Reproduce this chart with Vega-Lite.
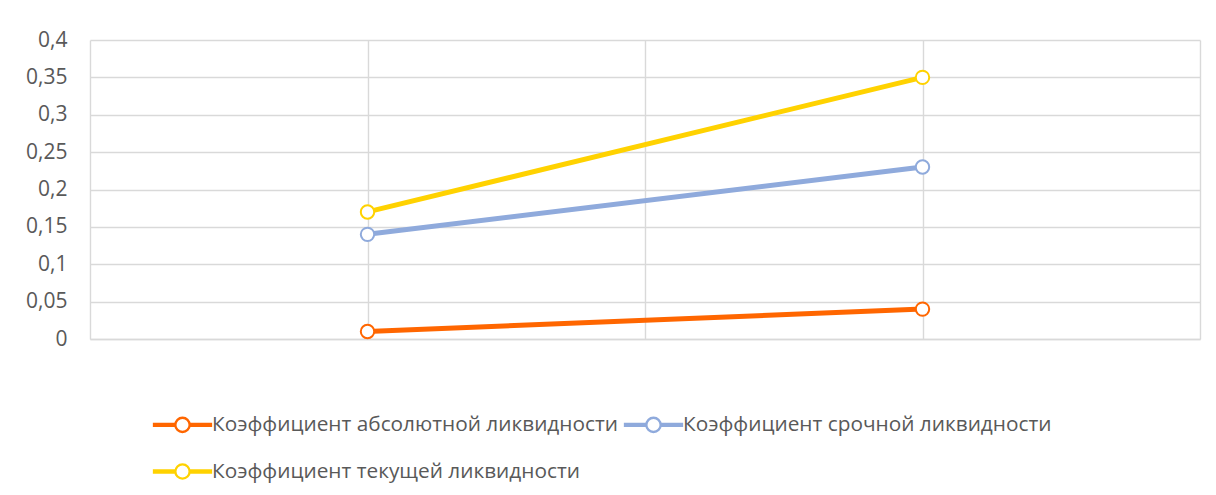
{
  "$schema": "https://vega.github.io/schema/vega-lite/v6.json",
  "width": 1110,
  "height": 299,
  "autosize": {"type": "none"},
  "padding": {"left": 90, "top": 40, "right": 16, "bottom": 156},
  "background": "white",
  "data": {
    "values": [
      {"date": "2018-12-31", "series": "Коэффициент абсолютной ликвидности", "value": 0.01},
      {"date": "2019-12-31", "series": "Коэффициент абсолютной ликвидности", "value": 0.04},
      {"date": "2018-12-31", "series": "Коэффициент срочной ликвидности", "value": 0.14},
      {"date": "2019-12-31", "series": "Коэффициент срочной ликвидности", "value": 0.23},
      {"date": "2018-12-31", "series": "Коэффициент текущей ликвидности", "value": 0.17},
      {"date": "2019-12-31", "series": "Коэффициент текущей ликвидности", "value": 0.35}
    ]
  },
  "encoding": {
    "x": {
      "field": "date",
      "type": "temporal",
      "scale": {"type": "utc", "domain": [1530446400000, 1593518400000]},
      "axis": {
        "title": null,
        "values": [1530446400000, 1546214400000, 1561982400000, 1577750400000, 1593518400000],
        "labelExpr": "(datum.value == 1546214400000 || datum.value == 1577750400000) ? utcFormat(datum.value, '%d.%m.%Y') : ''",
        "labelOverlap": false,
        "labelFlush": false,
        "grid": true,
        "gridColor": "#D9D9D9",
        "gridWidth": 1.4,
        "ticks": false,
        "domainColor": "#D9D9D9",
        "domainWidth": 1.4,
        "labelFont": "Open Sans",
        "labelFontSize": 21,
        "labelColor": "#595959",
        "labelPadding": 14
      }
    },
    "y": {
      "field": "value",
      "type": "quantitative",
      "scale": {"domain": [0, 0.4]},
      "axis": {
        "title": null,
        "values": [0, 0.05, 0.1, 0.15, 0.2, 0.25, 0.3, 0.35, 0.4],
        "labelExpr": "replace(format(datum.value, '.2~f'), '.', ',')",
        "domain": false,
        "ticks": false,
        "grid": true,
        "gridColor": "#D9D9D9",
        "gridWidth": 1.4,
        "labelFont": "Open Sans",
        "labelFontSize": 21,
        "labelColor": "#595959",
        "labelPadding": 23
      }
    },
    "color": {
      "field": "series",
      "type": "nominal",
      "scale": {
        "domain": ["Коэффициент абсолютной ликвидности", "Коэффициент срочной ликвидности", "Коэффициент текущей ликвидности"],
        "range": ["#FF6600", "#8FAADC", "#FFD200"]
      },
      "legend": {
        "orient": "none",
        "legendX": 77,
        "legendY": 369,
        "direction": "horizontal",
        "columns": 2,
        "title": null,
        "padding": 0,
        "symbolType": "M-2,-0.07H-0.5V0.07H-2Z M0.5,-0.07H2V0.07H0.5Z M0.5,0A0.5,0.5 0 1 1 -0.5,0A0.5,0.5 0 1 1 0.5,0Z",
        "symbolSize": 812,
        "symbolStrokeWidth": 2.3,
        "symbolFillColor": "white",
        "symbolOpacity": 1,
        "labelFont": "Open Sans",
        "labelFontSize": 20.8,
        "labelColor": "#595959",
        "labelOffset": 14,
        "rowPadding": 19,
        "columnPadding": 2,
        "labelLimit": 0
      }
    }
  },
  "layer": [
    {"mark": {"type": "line", "strokeWidth": 5}},
    {"mark": {"type": "point", "filled": false, "fill": "white", "fillOpacity": 1, "opacity": 1, "size": 180, "strokeWidth": 2}}
  ],
  "config": {"view": {"stroke": null}}
}
